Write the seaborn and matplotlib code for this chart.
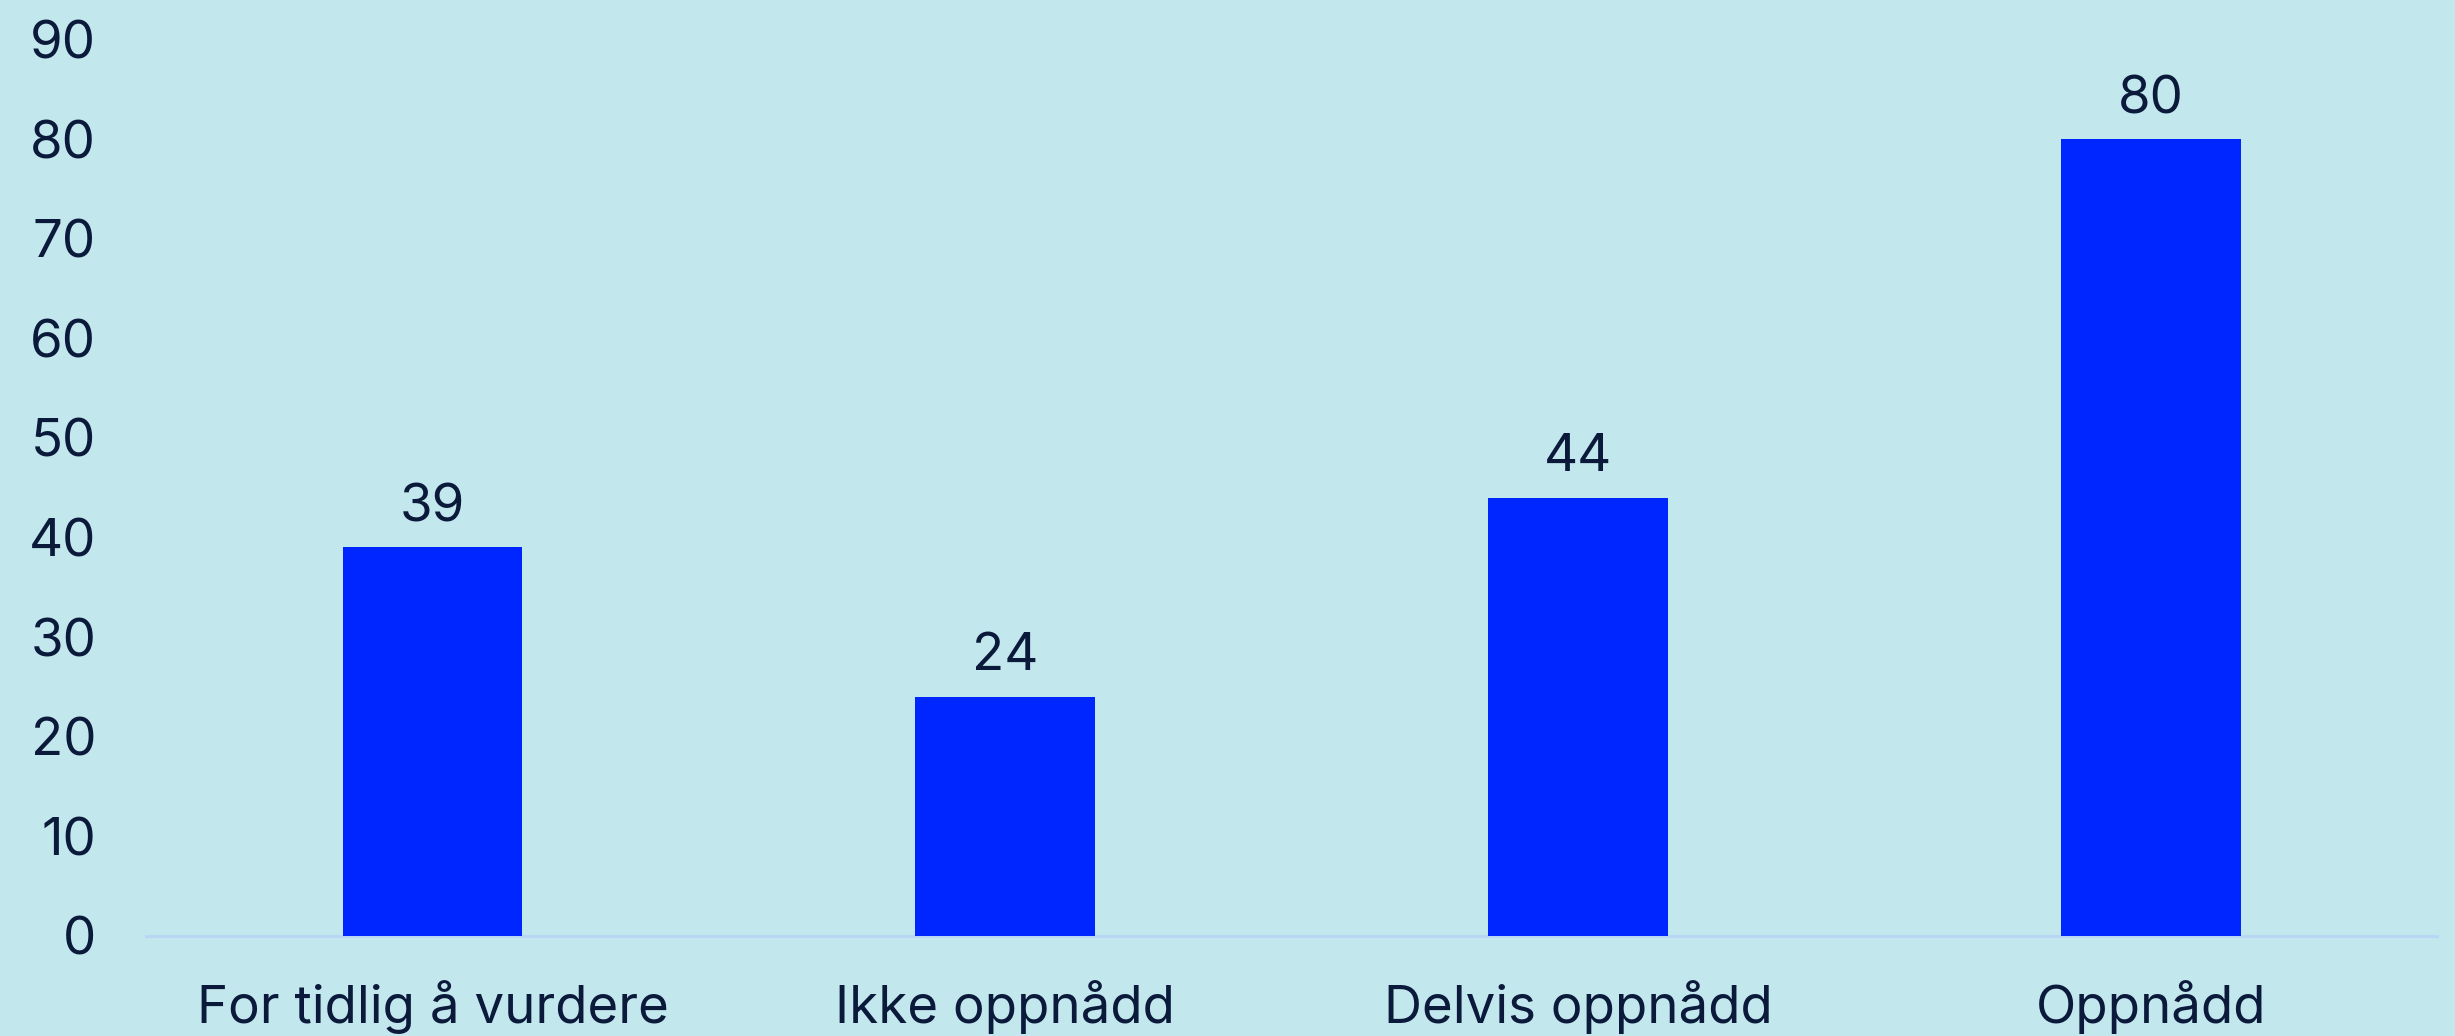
import matplotlib
matplotlib.use("Agg")
import matplotlib.pyplot as plt
import seaborn as sns
import pandas as pd

categories = ["For tidlig å vurdere", "Ikke oppnådd", "Delvis oppnådd", "Oppnådd"]
values = [39, 24, 44, 80]
yticks = [0, 10, 20, 30, 40, 50, 60, 70, 80, 90]

bg = "#c2e8ee"
bar_color = "#0026ff"
text_color = "#0b1a3b"
axis_color = "#b9d6f5"

sns.set_theme(style="white")
plt.rcParams['font.family'] = ['Inter', 'DejaVu Sans']

fig = plt.figure(figsize=(24.55, 10.36), dpi=100, facecolor=bg)
ax = fig.add_axes([0.0595, 0.097, 0.9332, 0.8644])
ax.set_facecolor(bg)

df = pd.DataFrame({"cat": categories, "val": values})
sns.barplot(data=df, x="cat", y="val", color=bar_color, width=0.314, ax=ax,
            saturation=1, edgecolor="none")

for c in ax.containers:
    ax.bar_label(c, labels=[str(v) for v in values], padding=11,
                 fontsize=38, color=text_color)

ax.set_xlim(-0.5, 3.5)
ax.set_ylim(0, 90)
ax.set_yticks(yticks)
ax.set_yticklabels([str(t) for t in yticks])
ax.set_xlabel("")
ax.set_ylabel("")
ax.tick_params(axis="both", length=0, labelsize=38, colors=text_color)
ax.tick_params(axis="y", pad=36)
ax.tick_params(axis="x", pad=32)
for s in ["top", "right", "left"]:
    ax.spines[s].set_visible(False)
ax.spines["bottom"].set_color(axis_color)
ax.spines["bottom"].set_linewidth(2.2)
ax.spines["bottom"].set_zorder(0)
ax.grid(False)

fig.savefig("out.png", dpi=100, facecolor=bg)
